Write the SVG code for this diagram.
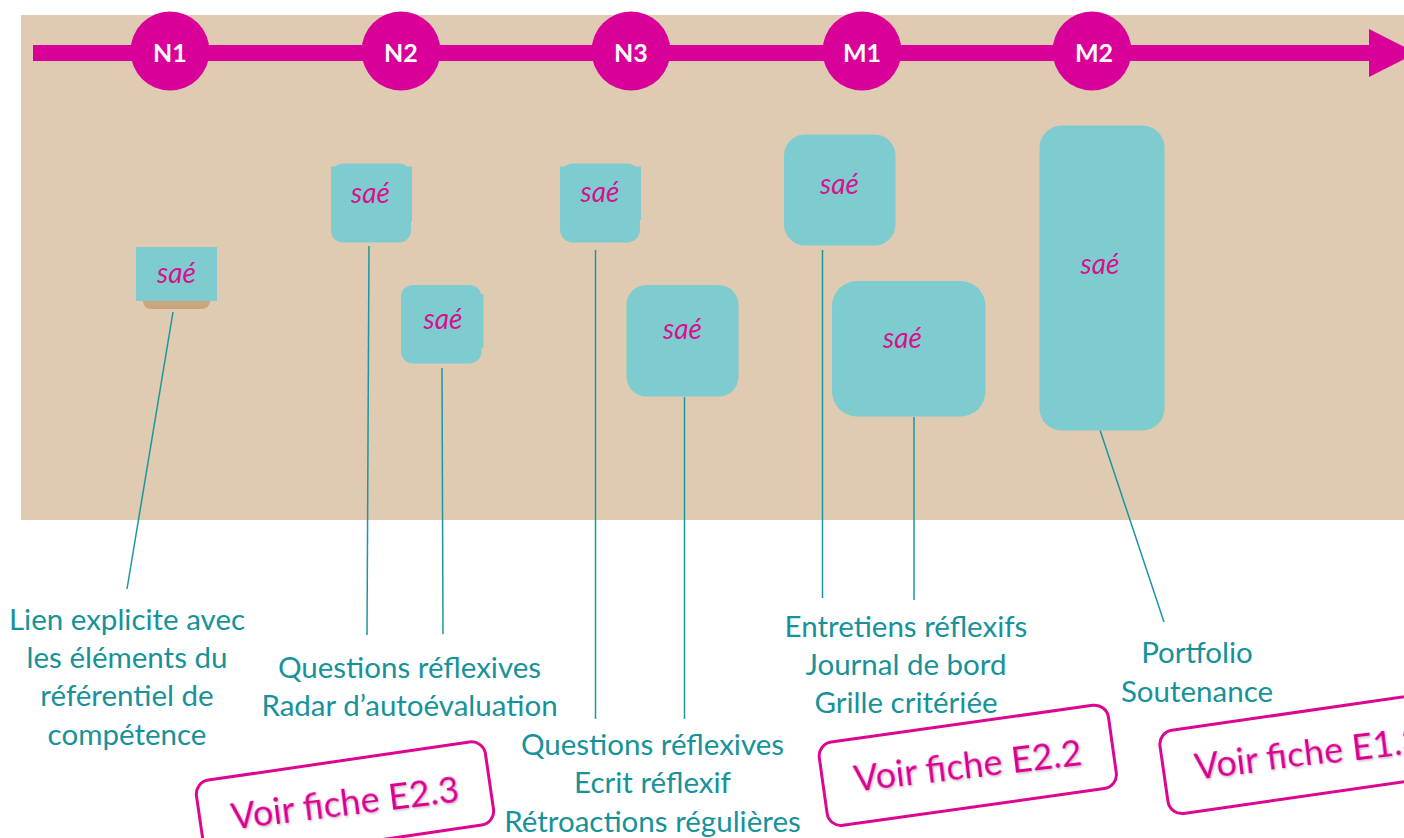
<svg xmlns="http://www.w3.org/2000/svg" width="1404" height="838" viewBox="0 0 1404 838">
<defs>
<style>
.bg{fill:#dfcab2}
.axis{fill:#d9009a}
.stage{fill:#d9009a}
.stage-label{font-family:Lato,"Liberation Sans",sans-serif;font-weight:bold;font-size:25px;fill:#ffffff;text-anchor:middle}
.sae{fill:#7fccd0}
.sae-base{fill:#c9a67e}
.sae-text{font-family:Lato,"Liberation Sans",sans-serif;font-style:italic;font-size:28px;fill:#d6128f;text-anchor:middle}
.conn{stroke:#1c97a0;stroke-width:1.5;fill:none}
.label{font-family:Lato,"Liberation Sans",sans-serif;font-size:29.5px;fill:#17929a;text-anchor:middle}
.fiche{fill:#ffffff;stroke:#dc0791;stroke-width:3}
.fiche-text{font-family:Lato,"Liberation Sans",sans-serif;font-size:36px;fill:#d9008f;text-anchor:middle}
</style>
<filter id="shadow" x="-10%" y="-30%" width="120%" height="160%">
<feDropShadow dx="1" dy="1.5" stdDeviation="1" flood-color="#000000" flood-opacity="0.25"/>
</filter>
</defs>

<rect class="bg" x="21" y="15" width="1390" height="505"/>

<g id="timeline">
<rect class="axis" x="33" y="45" width="1337" height="16"/>
<polygon class="axis" points="1369,29 1416,53 1369,77"/>
</g>

<g id="stage-N1"><circle class="stage" cx="170" cy="51" r="39.5"/><text class="stage-label" x="170" y="61.5">N1</text></g>
<g id="stage-N2"><circle class="stage" cx="401" cy="51" r="39.5"/><text class="stage-label" x="401" y="61.5">N2</text></g>
<g id="stage-N3"><circle class="stage" cx="631" cy="51" r="39.5"/><text class="stage-label" x="631" y="61.5">N3</text></g>
<g id="stage-M1"><circle class="stage" cx="862" cy="51" r="39.5"/><text class="stage-label" x="862" y="61.5">M1</text></g>
<g id="stage-M2"><circle class="stage" cx="1092" cy="51" r="39.5"/><text class="stage-label" x="1094" y="61.5">M2</text></g>

<g id="connectors">
<line class="conn" x1="173" y1="312" x2="127" y2="589"/>
<line class="conn" x1="369" y1="246" x2="367" y2="635"/>
<line class="conn" x1="442" y1="368" x2="443" y2="634"/>
<line class="conn" x1="595.5" y1="250" x2="595.5" y2="719"/>
<line class="conn" x1="684.5" y1="397" x2="684.5" y2="719"/>
<line class="conn" x1="822.5" y1="250" x2="822.5" y2="598"/>
<line class="conn" x1="914" y1="417" x2="914" y2="600"/>
<line class="conn" x1="1100" y1="430" x2="1164" y2="622"/>
</g>

<g id="sae-N1">
<rect class="sae-base" x="143" y="290" width="67" height="19" rx="8"/>
<rect class="sae" x="136" y="247" width="81" height="54"/>
<text class="sae-text" x="176.5" y="282.5">saé</text>
</g>
<g id="sae-N2-a">
<rect class="sae" x="331" y="163.5" width="80" height="79" rx="12"/>
<rect class="sae" x="331" y="166.5" width="81" height="55"/>
<text class="sae-text" x="370.5" y="202.5">saé</text>
</g>
<g id="sae-N2-b">
<rect class="sae" x="401" y="285" width="80.5" height="78.5" rx="12"/>
<rect class="sae" x="401" y="294" width="82.5" height="53.5"/>
<text class="sae-text" x="443" y="329">saé</text>
</g>
<g id="sae-N3-a">
<rect class="sae" x="560" y="163.5" width="80" height="79" rx="13"/>
<rect class="sae" x="560" y="166.5" width="81" height="53.5"/>
<text class="sae-text" x="600" y="201.5">saé</text>
</g>
<g id="sae-N3-b">
<rect class="sae" x="626.5" y="285" width="112" height="111.5" rx="20"/>
<text class="sae-text" x="682.5" y="339">saé</text>
</g>
<g id="sae-M1-a">
<rect class="sae" x="784" y="134.5" width="111.5" height="111" rx="21"/>
<text class="sae-text" x="839.5" y="194">saé</text>
</g>
<g id="sae-M1-b">
<rect class="sae" x="832" y="281" width="153.5" height="135.5" rx="25"/>
<text class="sae-text" x="902.5" y="348">saé</text>
</g>
<g id="sae-M2">
<rect class="sae" x="1039.5" y="125.5" width="125" height="305" rx="22"/>
<text class="sae-text" x="1100" y="274">saé</text>
</g>

<g id="label-N1">
<text class="label" x="127" y="630">Lien explicite avec</text>
<text class="label" x="127" y="667.5">les éléments du</text>
<text class="label" x="127" y="706">référentiel de</text>
<text class="label" x="127" y="745">compétence</text>
</g>
<g id="label-N2">
<text class="label" x="409.5" y="678">Questions réflexives</text>
<text class="label" x="409.5" y="715.5">Radar d’autoévaluation</text>
</g>
<g id="label-N3">
<text class="label" x="652.5" y="755">Questions réflexives</text>
<text class="label" x="652.5" y="793">Ecrit réflexif</text>
<text class="label" x="652.5" y="831.5">Rétroactions régulières</text>
</g>
<g id="label-M1">
<text class="label" x="906" y="637">Entretiens réflexifs</text>
<text class="label" x="906" y="675">Journal de bord</text>
<text class="label" x="906" y="713">Grille critériée</text>
</g>
<g id="label-M2">
<text class="label" x="1197" y="663">Portfolio</text>
<text class="label" x="1197" y="702">Soutenance</text>
</g>

<g id="fiche-E2-3" transform="translate(345 802.6) rotate(-8.3)">
<rect class="fiche" x="-146" y="-42" width="292" height="84" rx="14"/>
<text class="fiche-text" x="0" y="12.5" transform="rotate(1.3)" filter="url(#shadow)">Voir fiche E2.3</text>
</g>
<g id="fiche-E2-2" transform="translate(967.8 765.3) rotate(-8)">
<rect class="fiche" x="-146" y="-42" width="292" height="84" rx="14"/>
<text class="fiche-text" x="0" y="12.5" transform="rotate(1.3)" filter="url(#shadow)">Voir fiche E2.2</text>
</g>
<g id="fiche-E1-3" transform="translate(1308.5 753) rotate(-8.2)">
<rect class="fiche" x="-146" y="-42" width="292" height="84" rx="14"/>
<text class="fiche-text" x="0" y="12.5" transform="rotate(1.3)" filter="url(#shadow)">Voir fiche E1.3</text>
</g>
</svg>
